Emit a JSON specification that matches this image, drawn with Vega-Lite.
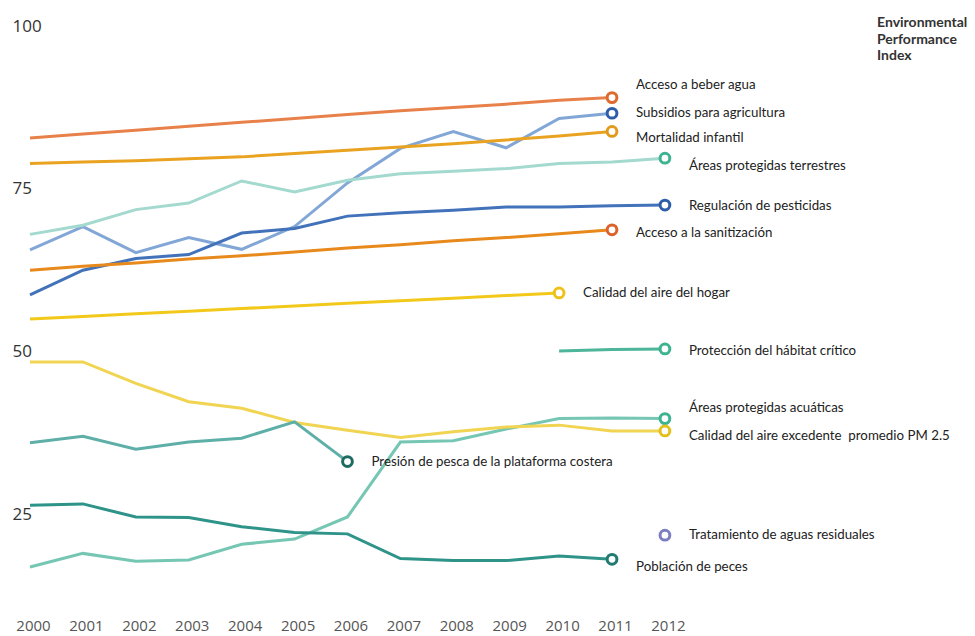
{
  "$schema": "https://vega.github.io/schema/vega-lite/v6.json",
  "width": 945,
  "height": 586,
  "autosize": {"type": "none"},
  "padding": {"left": 30, "top": 26, "right": 0, "bottom": 24},
  "background": "white",
  "title": {
    "text": ["Environmental", "Performance", "Index"],
    "anchor": "end",
    "align": "left",
    "frame": "group",
    "dx": -98,
    "dy": 50,
    "font": "Lato",
    "fontSize": 14,
    "fontWeight": "bold",
    "color": "#333333",
    "lineHeight": 16.5
  },
  "config": {"view": {"stroke": null}},
  "datasets": {
    "series": [
      {"series": "Acceso a beber agua", "year": 2000, "value": 82.8},
      {"series": "Acceso a beber agua", "year": 2001, "value": 83.4},
      {"series": "Acceso a beber agua", "year": 2002, "value": 84.0},
      {"series": "Acceso a beber agua", "year": 2003, "value": 84.6},
      {"series": "Acceso a beber agua", "year": 2004, "value": 85.2},
      {"series": "Acceso a beber agua", "year": 2005, "value": 85.8},
      {"series": "Acceso a beber agua", "year": 2006, "value": 86.4},
      {"series": "Acceso a beber agua", "year": 2007, "value": 87.0},
      {"series": "Acceso a beber agua", "year": 2008, "value": 87.5},
      {"series": "Acceso a beber agua", "year": 2009, "value": 88.0},
      {"series": "Acceso a beber agua", "year": 2010, "value": 88.6},
      {"series": "Acceso a beber agua", "year": 2011, "value": 89.0},
      {"series": "Subsidios para agricultura", "year": 2000, "value": 65.6},
      {"series": "Subsidios para agricultura", "year": 2001, "value": 69.2},
      {"series": "Subsidios para agricultura", "year": 2002, "value": 65.2},
      {"series": "Subsidios para agricultura", "year": 2003, "value": 67.5},
      {"series": "Subsidios para agricultura", "year": 2004, "value": 65.7},
      {"series": "Subsidios para agricultura", "year": 2005, "value": 69.2},
      {"series": "Subsidios para agricultura", "year": 2006, "value": 75.9},
      {"series": "Subsidios para agricultura", "year": 2007, "value": 81.2},
      {"series": "Subsidios para agricultura", "year": 2008, "value": 83.8},
      {"series": "Subsidios para agricultura", "year": 2009, "value": 81.3},
      {"series": "Subsidios para agricultura", "year": 2010, "value": 85.8},
      {"series": "Subsidios para agricultura", "year": 2011, "value": 86.6},
      {"series": "Mortalidad infantil", "year": 2000, "value": 78.9},
      {"series": "Mortalidad infantil", "year": 2001, "value": 79.1},
      {"series": "Mortalidad infantil", "year": 2002, "value": 79.3},
      {"series": "Mortalidad infantil", "year": 2003, "value": 79.6},
      {"series": "Mortalidad infantil", "year": 2004, "value": 79.9},
      {"series": "Mortalidad infantil", "year": 2005, "value": 80.4},
      {"series": "Mortalidad infantil", "year": 2006, "value": 80.9},
      {"series": "Mortalidad infantil", "year": 2007, "value": 81.4},
      {"series": "Mortalidad infantil", "year": 2008, "value": 81.9},
      {"series": "Mortalidad infantil", "year": 2009, "value": 82.5},
      {"series": "Mortalidad infantil", "year": 2010, "value": 83.1},
      {"series": "Mortalidad infantil", "year": 2011, "value": 83.8},
      {"series": "Áreas protegidas terrestres", "year": 2000, "value": 68.0},
      {"series": "Áreas protegidas terrestres", "year": 2001, "value": 69.4},
      {"series": "Áreas protegidas terrestres", "year": 2002, "value": 71.8},
      {"series": "Áreas protegidas terrestres", "year": 2003, "value": 72.8},
      {"series": "Áreas protegidas terrestres", "year": 2004, "value": 76.2},
      {"series": "Áreas protegidas terrestres", "year": 2005, "value": 74.5},
      {"series": "Áreas protegidas terrestres", "year": 2006, "value": 76.3},
      {"series": "Áreas protegidas terrestres", "year": 2007, "value": 77.3},
      {"series": "Áreas protegidas terrestres", "year": 2008, "value": 77.7},
      {"series": "Áreas protegidas terrestres", "year": 2009, "value": 78.1},
      {"series": "Áreas protegidas terrestres", "year": 2010, "value": 78.9},
      {"series": "Áreas protegidas terrestres", "year": 2011, "value": 79.1},
      {"series": "Áreas protegidas terrestres", "year": 2012, "value": 79.7},
      {"series": "Regulación de pesticidas", "year": 2000, "value": 58.7},
      {"series": "Regulación de pesticidas", "year": 2001, "value": 62.5},
      {"series": "Regulación de pesticidas", "year": 2002, "value": 64.3},
      {"series": "Regulación de pesticidas", "year": 2003, "value": 64.9},
      {"series": "Regulación de pesticidas", "year": 2004, "value": 68.2},
      {"series": "Regulación de pesticidas", "year": 2005, "value": 68.9},
      {"series": "Regulación de pesticidas", "year": 2006, "value": 70.8},
      {"series": "Regulación de pesticidas", "year": 2007, "value": 71.3},
      {"series": "Regulación de pesticidas", "year": 2008, "value": 71.7},
      {"series": "Regulación de pesticidas", "year": 2009, "value": 72.2},
      {"series": "Regulación de pesticidas", "year": 2010, "value": 72.2},
      {"series": "Regulación de pesticidas", "year": 2011, "value": 72.4},
      {"series": "Regulación de pesticidas", "year": 2012, "value": 72.5},
      {"series": "Acceso a la sanitización", "year": 2000, "value": 62.5},
      {"series": "Acceso a la sanitización", "year": 2001, "value": 63.1},
      {"series": "Acceso a la sanitización", "year": 2002, "value": 63.6},
      {"series": "Acceso a la sanitización", "year": 2003, "value": 64.2},
      {"series": "Acceso a la sanitización", "year": 2004, "value": 64.7},
      {"series": "Acceso a la sanitización", "year": 2005, "value": 65.3},
      {"series": "Acceso a la sanitización", "year": 2006, "value": 65.9},
      {"series": "Acceso a la sanitización", "year": 2007, "value": 66.4},
      {"series": "Acceso a la sanitización", "year": 2008, "value": 67.0},
      {"series": "Acceso a la sanitización", "year": 2009, "value": 67.5},
      {"series": "Acceso a la sanitización", "year": 2010, "value": 68.1},
      {"series": "Acceso a la sanitización", "year": 2011, "value": 68.7},
      {"series": "Calidad del aire del hogar", "year": 2000, "value": 55.0},
      {"series": "Calidad del aire del hogar", "year": 2001, "value": 55.4},
      {"series": "Calidad del aire del hogar", "year": 2002, "value": 55.8},
      {"series": "Calidad del aire del hogar", "year": 2003, "value": 56.2},
      {"series": "Calidad del aire del hogar", "year": 2004, "value": 56.6},
      {"series": "Calidad del aire del hogar", "year": 2005, "value": 57.0},
      {"series": "Calidad del aire del hogar", "year": 2006, "value": 57.4},
      {"series": "Calidad del aire del hogar", "year": 2007, "value": 57.8},
      {"series": "Calidad del aire del hogar", "year": 2008, "value": 58.2},
      {"series": "Calidad del aire del hogar", "year": 2009, "value": 58.6},
      {"series": "Calidad del aire del hogar", "year": 2010, "value": 59.0},
      {"series": "Protección del hábitat crítico", "year": 2010, "value": 50.1},
      {"series": "Protección del hábitat crítico", "year": 2011, "value": 50.3},
      {"series": "Protección del hábitat crítico", "year": 2012, "value": 50.4},
      {"series": "Áreas protegidas acuáticas", "year": 2000, "value": 16.9},
      {"series": "Áreas protegidas acuáticas", "year": 2001, "value": 19.0},
      {"series": "Áreas protegidas acuáticas", "year": 2002, "value": 17.8},
      {"series": "Áreas protegidas acuáticas", "year": 2003, "value": 18.0},
      {"series": "Áreas protegidas acuáticas", "year": 2004, "value": 20.4},
      {"series": "Áreas protegidas acuáticas", "year": 2005, "value": 21.2},
      {"series": "Áreas protegidas acuáticas", "year": 2006, "value": 24.6},
      {"series": "Áreas protegidas acuáticas", "year": 2007, "value": 36.1},
      {"series": "Áreas protegidas acuáticas", "year": 2008, "value": 36.3},
      {"series": "Áreas protegidas acuáticas", "year": 2009, "value": 38.1},
      {"series": "Áreas protegidas acuáticas", "year": 2010, "value": 39.7},
      {"series": "Áreas protegidas acuáticas", "year": 2011, "value": 39.8},
      {"series": "Áreas protegidas acuáticas", "year": 2012, "value": 39.7},
      {"series": "Calidad del aire excedente promedio PM 2.5", "year": 2000, "value": 48.4},
      {"series": "Calidad del aire excedente promedio PM 2.5", "year": 2001, "value": 48.4},
      {"series": "Calidad del aire excedente promedio PM 2.5", "year": 2002, "value": 45.1},
      {"series": "Calidad del aire excedente promedio PM 2.5", "year": 2003, "value": 42.3},
      {"series": "Calidad del aire excedente promedio PM 2.5", "year": 2004, "value": 41.3},
      {"series": "Calidad del aire excedente promedio PM 2.5", "year": 2005, "value": 39.1},
      {"series": "Calidad del aire excedente promedio PM 2.5", "year": 2006, "value": 37.9},
      {"series": "Calidad del aire excedente promedio PM 2.5", "year": 2007, "value": 36.8},
      {"series": "Calidad del aire excedente promedio PM 2.5", "year": 2008, "value": 37.7},
      {"series": "Calidad del aire excedente promedio PM 2.5", "year": 2009, "value": 38.4},
      {"series": "Calidad del aire excedente promedio PM 2.5", "year": 2010, "value": 38.7},
      {"series": "Calidad del aire excedente promedio PM 2.5", "year": 2011, "value": 37.8},
      {"series": "Calidad del aire excedente promedio PM 2.5", "year": 2012, "value": 37.8},
      {"series": "Presión de pesca de la plataforma costera", "year": 2000, "value": 36.0},
      {"series": "Presión de pesca de la plataforma costera", "year": 2001, "value": 37.0},
      {"series": "Presión de pesca de la plataforma costera", "year": 2002, "value": 35.0},
      {"series": "Presión de pesca de la plataforma costera", "year": 2003, "value": 36.1},
      {"series": "Presión de pesca de la plataforma costera", "year": 2004, "value": 36.7},
      {"series": "Presión de pesca de la plataforma costera", "year": 2005, "value": 39.2},
      {"series": "Presión de pesca de la plataforma costera", "year": 2006, "value": 33.1},
      {"series": "Población de peces", "year": 2000, "value": 26.4},
      {"series": "Población de peces", "year": 2001, "value": 26.6},
      {"series": "Población de peces", "year": 2002, "value": 24.6},
      {"series": "Población de peces", "year": 2003, "value": 24.5},
      {"series": "Población de peces", "year": 2004, "value": 23.1},
      {"series": "Población de peces", "year": 2005, "value": 22.2},
      {"series": "Población de peces", "year": 2006, "value": 22.0},
      {"series": "Población de peces", "year": 2007, "value": 18.2},
      {"series": "Población de peces", "year": 2008, "value": 17.9},
      {"series": "Población de peces", "year": 2009, "value": 17.9},
      {"series": "Población de peces", "year": 2010, "value": 18.6},
      {"series": "Población de peces", "year": 2011, "value": 18.1}
    ],
    "ends": [
      {"series": "Acceso a beber agua", "label": "Acceso a beber agua", "year": 2011, "value": 89.0, "label_value": 90.9},
      {"series": "Subsidios para agricultura", "label": "\u00a0Subsidios para agricultura", "year": 2011, "value": 86.6, "label_value": 86.6},
      {"series": "Mortalidad infantil", "label": "Mortalidad infantil", "year": 2011, "value": 83.8, "label_value": 82.8},
      {"series": "Áreas protegidas terrestres", "label": "\u00a0\u00a0\u00a0Áreas protegidas terrestres", "year": 2012, "value": 79.7, "label_value": 78.5},
      {"series": "Regulación de pesticidas", "label": "Regulación de pesticidas", "year": 2012, "value": 72.5, "label_value": 72.4},
      {"series": "Acceso a la sanitización", "label": "Acceso a la sanitización", "year": 2011, "value": 68.7, "label_value": 68.2},
      {"series": "Calidad del aire del hogar", "label": "Calidad del aire del hogar", "year": 2010, "value": 59.0, "label_value": 59.0},
      {"series": "Protección del hábitat crítico", "label": "Protección del hábitat crítico", "year": 2012, "value": 50.4, "label_value": 50.1},
      {"series": "Áreas protegidas acuáticas", "label": "Áreas protegidas acuáticas", "year": 2012, "value": 39.7, "label_value": 41.4},
      {"series": "Calidad del aire excedente promedio PM 2.5", "label": "Calidad del aire excedente \u00a0promedio PM 2.5", "year": 2012, "value": 37.8, "label_value": 37.0},
      {"series": "Presión de pesca de la plataforma costera", "label": "Presión de pesca de la plataforma costera", "year": 2006, "value": 33.1, "label_value": 33.0},
      {"series": "Tratamiento de aguas residuales", "label": "Tratamiento de aguas residuales", "year": 2012, "value": 21.8, "label_value": 21.9},
      {"series": "Población de peces", "label": "Población de peces", "year": 2011, "value": 18.1, "label_value": 16.9}
    ]
  },
  "layer": [
    {
      "data": {"name": "series"},
      "mark": {"type": "line", "strokeWidth": 3, "interpolate": "linear"},
      "encoding": {
        "x": {
          "field": "year", "type": "quantitative",
          "scale": {"domain": [2000, 2017.86], "nice": false, "zero": false},
          "axis": {
            "values": [2000, 2001, 2002, 2003, 2004, 2005, 2006, 2007, 2008, 2009, 2010, 2011, 2012],
            "format": "d", "title": null, "domain": false, "ticks": false, "grid": false,
            "labelFont": "Open Sans", "labelFontSize": 15, "labelColor": "#555555",
            "labelPadding": 6, "labelOffset": 3, "labelOverlap": false, "labelFlush": false
          }
        },
        "y": {
          "field": "value", "type": "quantitative",
          "scale": {"domain": [10, 100], "nice": false, "zero": false},
          "axis": {
            "values": [25, 50, 75, 100], "title": null, "domain": false, "ticks": false, "grid": false,
            "labelFont": "Open Sans", "labelFontSize": 17, "labelColor": "#333333",
            "labelAlign": "left", "labelBaseline": "middle", "labelPadding": 18, "labelOverlap": false, "labelFlush": false
          }
        },
        "stroke": {
          "field": "series", "type": "nominal", "legend": null,
          "scale": {
            "domain": ["Acceso a beber agua", "Subsidios para agricultura", "Mortalidad infantil", "Áreas protegidas terrestres", "Regulación de pesticidas", "Acceso a la sanitización", "Calidad del aire del hogar", "Protección del hábitat crítico", "Áreas protegidas acuáticas", "Calidad del aire excedente promedio PM 2.5", "Presión de pesca de la plataforma costera", "Tratamiento de aguas residuales", "Población de peces"],
            "range": ["#E8804A", "#82A7D6", "#E9A321", "#A3D9CE", "#4272BA", "#E8891C", "#F2C91B", "#4DB59A", "#76C6B4", "#F0D452", "#5DAFA8", "#7B7EC0", "#2E9389"]
          }
        },
        "detail": {"field": "series", "type": "nominal"}
      }
    },
    {
      "data": {"name": "ends"},
      "mark": {"type": "point", "filled": false, "fill": "white", "fillOpacity": 1, "opacity": 1, "size": 95, "strokeWidth": 3},
      "encoding": {
        "x": {"field": "year", "type": "quantitative"},
        "y": {"field": "value", "type": "quantitative"},
        "color": {
          "field": "series", "type": "nominal", "legend": null,
          "scale": {
            "domain": ["Acceso a beber agua", "Subsidios para agricultura", "Mortalidad infantil", "Áreas protegidas terrestres", "Regulación de pesticidas", "Acceso a la sanitización", "Calidad del aire del hogar", "Protección del hábitat crítico", "Áreas protegidas acuáticas", "Calidad del aire excedente promedio PM 2.5", "Presión de pesca de la plataforma costera", "Tratamiento de aguas residuales", "Población de peces"],
            "range": ["#DF6A2E", "#2E5EA9", "#E29A1B", "#3DB38F", "#2E5EA9", "#DC612A", "#EDC11A", "#3DB38F", "#3DB38F", "#E2C01C", "#1E6B63", "#7B7EC0", "#1F7A6F"]
          }
        }
      }
    },
    {
      "data": {"name": "ends"},
      "mark": {"type": "text", "align": "left", "baseline": "middle", "dx": 24, "font": "Lato", "fontSize": 13.3, "color": "#222222"},
      "encoding": {
        "x": {"field": "year", "type": "quantitative"},
        "y": {"field": "label_value", "type": "quantitative"},
        "text": {"field": "label"}
      }
    }
  ]
}
